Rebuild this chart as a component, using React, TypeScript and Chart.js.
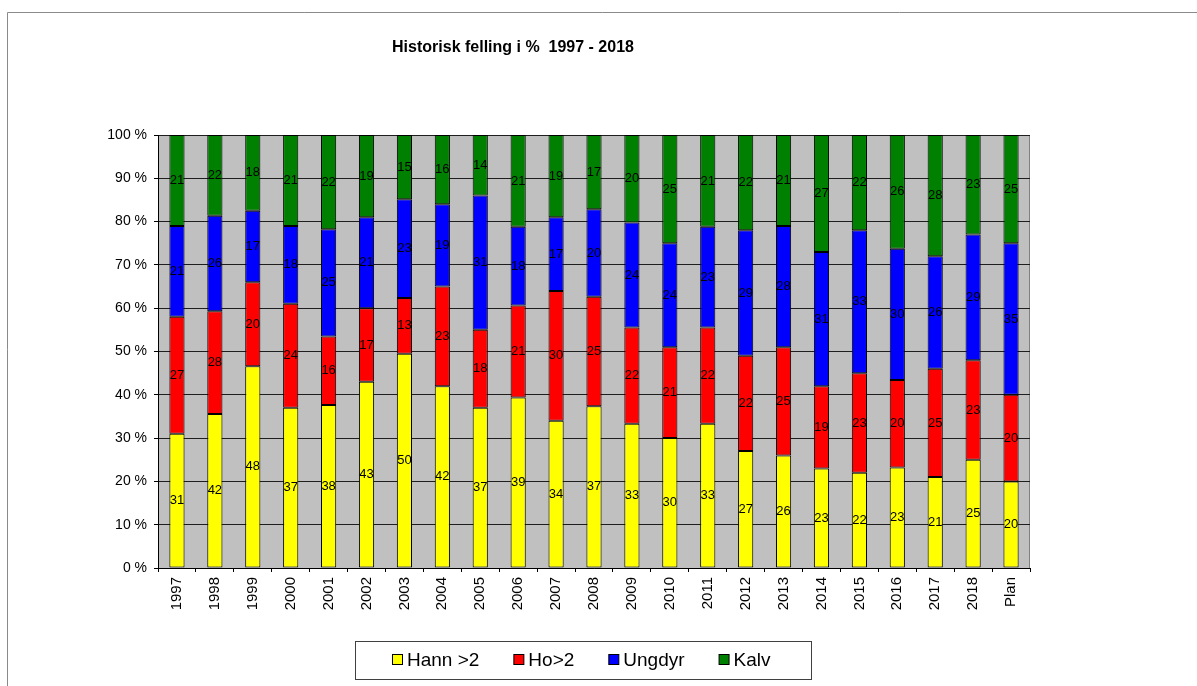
import React, { useEffect, useRef } from "react";
import { Chart, registerables } from "chart.js";

Chart.register(...registerables);

const categories = [
  "1997", "1998", "1999", "2000", "2001", "2002", "2003", "2004", "2005", "2006", "2007", "2008",
  "2009", "2010", "2011", "2012", "2013", "2014", "2015", "2016", "2017", "2018", "Plan",
];
const hann = [31, 42, 48, 37, 38, 43, 50, 42, 37, 39, 34, 37, 33, 30, 33, 27, 26, 23, 22, 23, 21, 25, 20];
const ho = [27, 28, 20, 24, 16, 17, 13, 23, 18, 21, 30, 25, 22, 21, 22, 22, 25, 19, 23, 20, 25, 23, 20];
const ungdyr = [21, 26, 17, 18, 25, 21, 23, 19, 31, 18, 17, 20, 24, 24, 23, 29, 28, 31, 33, 30, 26, 29, 35];
const kalv = [21, 22, 18, 21, 22, 19, 15, 16, 14, 21, 19, 17, 20, 25, 21, 22, 21, 27, 22, 26, 28, 23, 25];

const seriesNames = ["Hann >2", "Ho>2", "Ungdyr", "Kalv"];
const seriesColors = ["#FFFF00", "#FF0000", "#0000FF", "#008000"];
const chartTitle = "Historisk felling i %  1997 - 2018";

const FONT = '"Liberation Sans", Arial, Helvetica, sans-serif';

export default function App() {
  const ref = useRef<HTMLCanvasElement | null>(null);

  useEffect(() => {
    const canvas = ref.current;
    if (!canvas) return;
    const raw = [hann, ho, ungdyr, kalv];
    const totals = categories.map((_, i) => raw.reduce((s, arr) => s + arr[i], 0));
    const datasets = raw.map((arr, k) => ({
      label: seriesNames[k],
      data: arr.map((v, i) => (v / totals[i]) * 100),
      backgroundColor: seriesColors[k],
      borderColor: "#000000",
      borderWidth: 1,
      borderSkipped: false as const,
      categoryPercentage: 1,
      barPercentage: 0.4,
    }));

    const decor = {
      id: "decor",
      beforeDraw(chart: any) {
        const { ctx, chartArea: a, width, height } = chart;
        ctx.save();
        ctx.fillStyle = "#ffffff";
        ctx.fillRect(0, 0, width, height);
        ctx.fillStyle = "#c0c0c0";
        ctx.fillRect(a.left, a.top, a.right - a.left, a.bottom - a.top);
        ctx.strokeStyle = "#8a8a8a";
        ctx.lineWidth = 1;
        ctx.beginPath();
        ctx.moveTo(7.5, height);
        ctx.lineTo(7.5, 12.5);
        ctx.lineTo(width, 12.5);
        ctx.stroke();
        ctx.beginPath();
        ctx.moveTo(Math.round(a.right) - 0.5, a.top);
        ctx.lineTo(Math.round(a.right) - 0.5, a.bottom);
        ctx.strokeStyle = "#808080";
        ctx.stroke();
        ctx.restore();
      },
      afterDatasetsDraw(chart: any) {
        const { ctx } = chart;
        ctx.save();
        ctx.font = `13px ${FONT}`;
        ctx.fillStyle = "#000000";
        ctx.textAlign = "center";
        ctx.textBaseline = "middle";
        raw.forEach((arr, k) => {
          const meta = chart.getDatasetMeta(k);
          meta.data.forEach((bar: any, i: number) => {
            const yc = (bar.y + bar.base) / 2;
            ctx.fillText(String(arr[i]), bar.x, yc);
          });
        });
        ctx.restore();
      },
      afterDraw(chart: any) {
        const { ctx } = chart;
        ctx.save();
        // title
        ctx.font = `bold 16px ${FONT}`;
        ctx.fillStyle = "#000000";
        ctx.textAlign = "center";
        ctx.textBaseline = "middle";
        ctx.fillText(chartTitle, 513, 48);
        // legend
        const bx = 355, by = 641, bw = 456, bh = 38;
        ctx.fillStyle = "#ffffff";
        ctx.fillRect(bx, by, bw, bh);
        ctx.strokeStyle = "#404040";
        ctx.lineWidth = 1;
        ctx.strokeRect(bx + 0.5, by + 0.5, bw, bh);
        ctx.font = `19px ${FONT}`;
        ctx.textAlign = "left";
        let x = 392;
        const yc = 660;
        seriesNames.forEach((name, k) => {
          ctx.fillStyle = seriesColors[k];
          ctx.fillRect(x + 0.5, yc - 5.5, 10, 10);
          ctx.strokeStyle = "#000000";
          ctx.strokeRect(x + 0.5, yc - 5.5, 10, 10);
          ctx.fillStyle = "#000000";
          ctx.fillText(name, x + 15, yc + 1);
          x += 15 + ctx.measureText(name).width + 34;
        });
        ctx.restore();
      },
    };

    const chart = new Chart(canvas, {
      type: "bar",
      data: { labels: categories, datasets },
      options: {
        responsive: false,
        animation: false,
        devicePixelRatio: 1,
        layout: { padding: { left: 98, right: 167, top: 135, bottom: 68 } },
        plugins: {
          legend: { display: false },
          title: { display: false },
          tooltip: { enabled: false },
        },
        scales: {
          x: {
            stacked: true,
            afterFit: (s: any) => { s.height = 50; },
            grid: {
              drawOnChartArea: false,
              offset: true,
              tickLength: 4,
              color: "#000000",
              tickColor: "#000000",
            },
            border: { color: "#000000", width: 1 },
            ticks: {
              autoSkip: false,
              maxRotation: 90,
              minRotation: 90,
              padding: 5,
              color: "#000000",
              font: { family: FONT, size: 15 },
            },
          },
          y: {
            stacked: true,
            min: 0,
            max: 100,
            afterFit: (s: any) => { s.width = 60; },
            grid: {
              color: "#1e1e1e",
              tickColor: "#000000",
              tickLength: 4,
              lineWidth: 1,
            },
            border: { color: "#000000", width: 1 },
            ticks: {
              stepSize: 10,
              padding: 7,
              color: "#000000",
              font: { family: FONT, size: 14 },
              callback: (v: any) => `${v} %`,
            },
          },
        },
      },
      plugins: [decor],
    });
    return () => chart.destroy();
  }, []);

  return (
    <div style={{ position: "absolute", left: 0, top: 0, width: 1197, height: 686 }}>
      <canvas ref={ref} width={1197} height={686} style={{ display: "block" }} />
    </div>
  );
}
